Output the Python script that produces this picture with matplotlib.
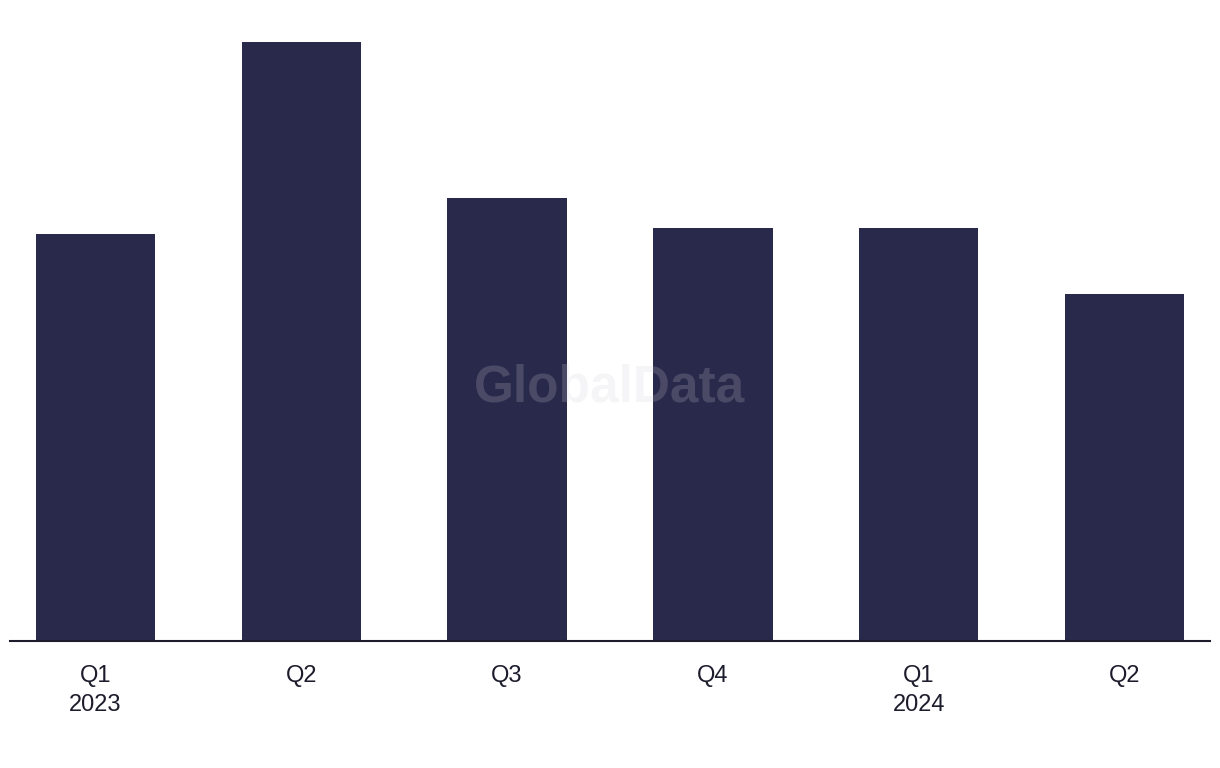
import matplotlib
matplotlib.use("Agg")
from matplotlib import pyplot as plt

quarters = ["Q1\n2023", "Q2", "Q3", "Q4", "Q1\n2024", "Q2"]
# bar heights (no axis shown, relative units)
values = [407, 599, 443, 413, 413, 347]

bar_color = "#29294b"
text_color = "#1c1c2c"

plt.rcParams["font.family"] = ["Liberation Sans", "DejaVu Sans"]

fig = plt.figure(figsize=(12.2, 7.68), dpi=100)
ax = fig.add_axes([10/1220, 127/768, 1200/1220, 641/768])

x = list(range(len(values)))
ax.bar(x, values, width=0.58, color=bar_color, zorder=2)

ax.set_xlim(-0.415, 5.415)
ax.set_ylim(0, 641)

for s in ["top", "right", "left"]:
    ax.spines[s].set_visible(False)
ax.spines["bottom"].set_color(text_color)
ax.spines["bottom"].set_linewidth(1.5)
ax.spines["bottom"].set_zorder(3)

ax.set_yticks([])
ax.set_xticks(x)
ax.set_xticklabels(quarters, fontsize=17, color=text_color, linespacing=1.45)
ax.tick_params(axis="x", length=0, pad=17)

# watermark
fig.text(0.5, 0.495, "GlobalData", ha="center", va="center", fontsize=37,
         fontweight="bold", color="#d0d0d8", alpha=0.2, zorder=10)

fig.savefig("out.png", dpi=100)
